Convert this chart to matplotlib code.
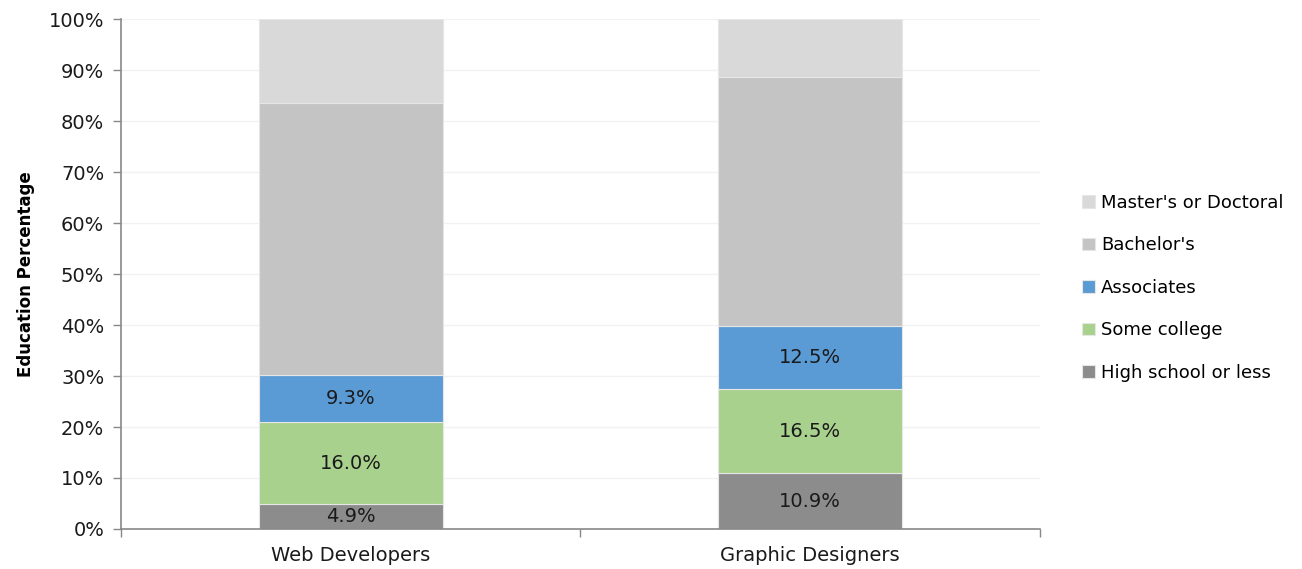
import matplotlib.pyplot as plt
from matplotlib.ticker import PercentFormatter

# education breakdown by occupation, percent of workers
occupations = ['Web Developers', 'Graphic Designers']
levels = ['High school or less', 'Some college', 'Associates', "Bachelor's", "Master's or Doctoral"]
high_school = [4.9, 10.9]
some_college = [16.0, 16.5]
associates = [9.3, 12.5]
bachelors = [53.3, 48.8]
masters = [16.5, 11.3]

colors = ['#8c8c8c', '#a9d18e', '#5b9bd5', '#c4c4c4', '#d9d9d9']
labelled = [True, True, True, False, False]

plt.rcParams['font.family'] = ['DejaVu Sans']

fig = plt.figure(figsize=(13.02, 5.69), dpi=100)
ax = fig.add_axes([0.0929, 0.0703, 0.7059, 0.8963])

x = list(range(len(occupations)))
bottom = [0.0] * len(occupations)
for name, vals, col, lab in zip(levels, [high_school, some_college, associates, bachelors, masters], colors, labelled):
    bars = ax.bar(x, vals, width=0.4, bottom=bottom, color=col, edgecolor='#e6e6e6',
                  linewidth=0.8, label=name, zorder=2)
    if lab:
        ax.bar_label(bars, labels=[f'{v:.1f}%' for v in vals], label_type='center',
                     fontsize=14, color='#1a1a1a')
    bottom = [b + v for b, v in zip(bottom, vals)]

ax.set_ylim(0, 100)
ax.set_xlim(-0.5, 1.5)
ax.set_yticks(range(0, 101, 10))
ax.yaxis.set_major_formatter(PercentFormatter(decimals=0))
ax.set_xticks(x)
ax.set_xticklabels(occupations)
ax.set_xticks([-0.5, 0.5, 1.5], minor=True)
ax.tick_params(axis='x', which='major', length=0, pad=12, labelsize=14, labelcolor='#1a1a1a')
ax.tick_params(axis='x', which='minor', length=6, color='#888888', width=1)
ax.tick_params(axis='y', length=6, color='#888888', width=1, labelsize=14, labelcolor='#1a1a1a', pad=6)

ax.grid(axis='y', color='#f2f2f2', linewidth=1, zorder=0)
ax.set_axisbelow(True)
for side in ['top', 'right']:
    ax.spines[side].set_visible(False)
for side in ['left', 'bottom']:
    ax.spines[side].set_color('#888888')
    ax.spines[side].set_linewidth(1.2)

ax.set_ylabel('Education Percentage', fontsize=12, fontweight='bold', labelpad=10)

handles, labels = ax.get_legend_handles_labels()
ax.legend(handles[::-1], labels[::-1], loc='center left', bbox_to_anchor=(1.038, 0.473),
          frameon=False, fontsize=13, handlelength=0.7, handleheight=0.7,
          handletextpad=0.35, labelspacing=1.35, borderaxespad=0)

fig.savefig('out.png', dpi=100)
